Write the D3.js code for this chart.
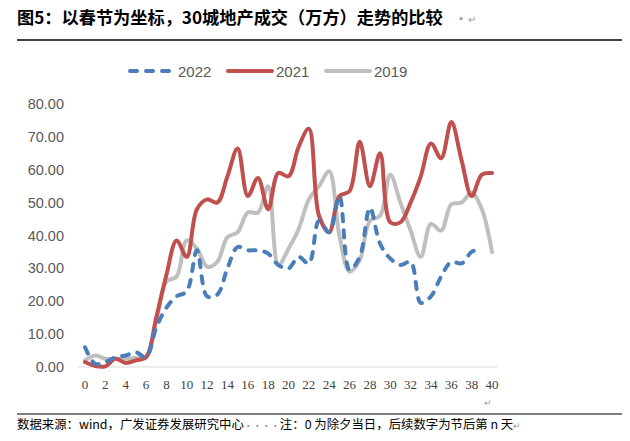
<!DOCTYPE html>
<html>
<head>
<meta charset="utf-8">
<script src="https://cdn.jsdelivr.net/npm/d3@7"></script>
<style>
  body { margin: 0; background: #fff; }
  svg { display: block; }
</style>
</head>
<body>
<div id="chart"></div>
<script>
// 春节后天数
const days = d3.range(0, 41);
const xTicks = d3.range(0, 41, 2);
const yTicks = [0, 10, 20, 30, 40, 50, 60, 70, 80];

// 2022 (到第39天)
const s2022 = [6, 1, 1.5, 3, 3.5, 4.5, 3, 12, 18, 21.5, 23, 35.5, 21.5, 22, 30, 36.5, 35.5, 35.5, 34.5, 31,
  30, 33.5, 31.5, 44.5, 41, 52, 29.5, 33.5, 48.4, 37.5, 33, 31, 32, 19.5, 21.5, 27.5, 32, 31.5, 35, 36];
const s2021 = [1.5, 0.3, 0.2, 2.5, 1.2, 2, 3, 15, 28, 38.5, 33.5, 48, 51, 50, 58, 66.5, 52, 57.5, 48, 59,
  58, 67, 72.5, 46, 41, 52, 53.5, 68.5, 55, 65, 44, 44, 50, 58, 68, 63.5, 74.5, 63, 52, 58.5, 59];
const s2019 = [2, 3.5, 2.5, 2.5, 2.5, 2.8, 3, 14, 26, 27.5, 38.5, 36, 30.5, 32, 39.5, 41, 47, 47, 55, 31,
  36, 42, 51, 55, 59.5, 40, 29, 32.5, 44.5, 46, 58.5, 50, 41.5, 33.5, 43.5, 41.5, 49.5, 50, 53, 48, 35];

const series = [
  { name: "2022", values: s2022, color: "#4a7ebb", dash: "7,9" },
  { name: "2021", values: s2021, color: "#c0504d", dash: null },
  { name: "2019", values: s2019, color: "#bfbfbf", dash: null }
];

const W = 630, H = 441;
const svg = d3.select("#chart").append("svg")
  .attr("width", W)
  .attr("height", H);

// 标题
svg.append("text")
  .attr("x", 17).attr("y", 24)
  .attr("font-family", "'Noto Sans CJK SC', sans-serif")
  .attr("font-size", 17.2)
  .attr("font-weight", "bold")
  .attr("fill", "#000")
  .text("图5：以春节为坐标，30城地产成交（万方）走势的比较");
svg.append("text")
  .attr("x", 456).attr("y", 23)
  .attr("font-family", "'Noto Sans CJK SC', sans-serif")
  .attr("font-size", 10).attr("fill", "#999")
  .text("▪ ↵");
svg.append("line")
  .attr("x1", 17).attr("x2", 622)
  .attr("y1", 40).attr("y2", 40)
  .attr("stroke", "#000").attr("stroke-width", 1.5);

// 比例尺
const x = d3.scaleLinear().domain([0, 40]).range([85, 492]);
const y = d3.scaleLinear().domain([0, 80]).range([367, 104]);

// 坐标轴
svg.append("line")
  .attr("x1", 78).attr("x2", 497)
  .attr("y1", y(0)).attr("y2", y(0))
  .attr("stroke", "#d9d9d9").attr("stroke-width", 1);

svg.selectAll(".ylab").data(yTicks).enter()
  .append("text")
  .attr("class", "ylab")
  .attr("x", 64)
  .attr("y", d => y(d) + 5)
  .attr("text-anchor", "end")
  .attr("font-family", "'Liberation Sans', Arial, sans-serif")
  .attr("font-size", 14.5)
  .attr("fill", "#595959")
  .text(d => d.toFixed(2));

svg.selectAll(".xlab").data(xTicks).enter()
  .append("text")
  .attr("class", "xlab")
  .attr("x", d => x(d))
  .attr("y", 389)
  .attr("text-anchor", "middle")
  .attr("font-family", "'Liberation Serif', 'Times New Roman', serif")
  .attr("font-size", 13)
  .attr("fill", "#404040")
  .text(d => d);

// 折线
const line = d3.line()
  .x((d, i) => x(days[i]))
  .y(d => y(d))
  .curve(d3.curveCatmullRom.alpha(0.5));

svg.selectAll(".series").data(series.slice().reverse()).enter()
  .append("path")
  .attr("class", "series")
  .attr("d", d => line(d.values))
  .attr("fill", "none")
  .attr("stroke", d => d.color)
  .attr("stroke-width", 4)
  .attr("stroke-linecap", "round")
  .attr("stroke-linejoin", "round")
  .attr("stroke-dasharray", d => d.dash);

// 图例
const legendX = [130, 228, 326];
const leg = svg.selectAll(".leg").data(series).enter()
  .append("g")
  .attr("class", "leg")
  .attr("transform", (d, i) => `translate(${legendX[i]},71)`);
leg.append("line")
  .attr("x1", 0).attr("x2", 44)
  .attr("stroke", d => d.color)
  .attr("stroke-width", 4)
  .attr("stroke-linecap", "round")
  .attr("stroke-dasharray", d => d.dash);
leg.append("text")
  .attr("x", 48).attr("y", 5.5)
  .attr("font-family", "'Liberation Sans', Arial, sans-serif")
  .attr("font-size", 15)
  .attr("fill", "#595959")
  .text(d => d.name);

// 段落标记
svg.append("text")
  .attr("x", 484).attr("y", 406)
  .attr("font-size", 9).attr("fill", "#999")
  .text("↵");

// 来源
svg.append("line")
  .attr("x1", 17).attr("x2", 622)
  .attr("y1", 414).attr("y2", 414)
  .attr("stroke", "#000").attr("stroke-width", 1.2);

const foot = svg.append("text")
  .attr("x", 17).attr("y", 429)
  .attr("font-family", "'Noto Sans CJK SC', sans-serif")
  .attr("font-size", 12.4)
  .attr("fill", "#000");
foot.append("tspan").text("数据来源：wind，广发证券发展研究中心");
foot.append("tspan").attr("fill", "#888").attr("font-size", 9).text("····");
foot.append("tspan").text("注：0 为除夕当日，后续数字为节后第 n 天");
foot.append("tspan").attr("fill", "#999").attr("font-size", 9).text("↵");
</script>
</body>
</html>
